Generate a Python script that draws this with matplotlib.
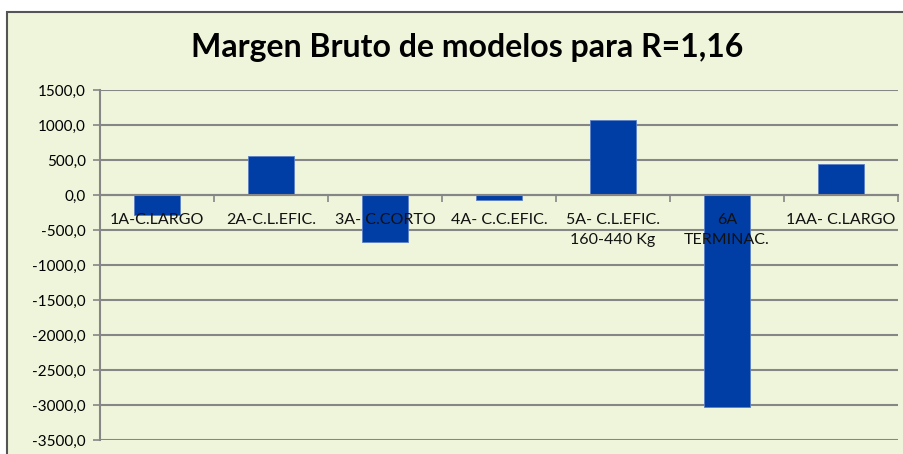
import matplotlib.pyplot as plt
import numpy as np
from matplotlib.patches import Rectangle

categories = [
    "1A-C.LARGO",
    "2A-C.L.EFIC.",
    "3A- C.CORTO",
    "4A- C.C.EFIC.",
    "5A- C.L.EFIC.\n160-440 Kg",
    "6A\nTERMINAC.",
    "1AA- C.LARGO",
]
margen = [-290.0, 550.0, -670.0, -75.0, 1070.0, -3030.0, 445.0]
y_ticks = [1500, 1000, 500, 0, -500, -1000, -1500, -2000, -2500, -3000, -3500]

BG = "#EEF5DA"
GRID = "#868686"
BAR = "#003DA5"

plt.rcParams["font.family"] = ["Lato", "DejaVu Sans"]

fig = plt.figure(figsize=(9.04, 4.54), dpi=100)
fig.patch.set_facecolor("white")
frame = Rectangle((7 / 904, -0.1), 1.0, 1 - 12 / 454 + 0.1,
                  transform=fig.transFigure, facecolor=BG,
                  edgecolor="#555555", linewidth=1.5, zorder=-5)
fig.add_artist(frame)

ax = fig.add_axes([100 / 904, 1 - 440 / 454, 798 / 904, 350 / 454])
ax.set_zorder(2)
ax.set_facecolor(BG)

x = np.arange(len(categories))
ax.bar(x, margen, width=0.4, color=BAR, edgecolor="#5B7FC7", linewidth=0.6, zorder=3)

ax.set_xlim(-0.5, len(categories) - 0.5)
ax.set_ylim(-3500, 1500)
ax.set_yticks(y_ticks)
ax.set_yticklabels([f"{v:.1f}".replace(".", ",") for v in y_ticks], fontsize=11)
ax.yaxis.grid(True, color=GRID, linewidth=1.5, zorder=1)
ax.set_axisbelow(True)

for side in ["top", "right"]:
    ax.spines[side].set_visible(False)
ax.spines["left"].set_color(GRID)
ax.spines["left"].set_linewidth(1.5)
ax.spines["bottom"].set_position(("data", 0))
ax.spines["bottom"].set_color(GRID)
ax.spines["bottom"].set_linewidth(1.5)
ax.spines["bottom"].set_zorder(4)

ax.set_xticks(np.arange(len(categories) + 1) - 0.5)
ax.set_xticklabels([])
ax.tick_params(axis="x", direction="out", length=5, color=GRID, width=1.2)
ax.tick_params(axis="y", direction="out", length=5, color=GRID, width=1.2, pad=5)

for xi, label in zip(x, categories):
    ax.annotate(label, xy=(xi, 0), xytext=(0, -13), textcoords="offset points",
                ha="center", va="top", fontsize=11.5, color="#111111",
                linespacing=1.5, zorder=5)

fig.text(467 / 904, 1 - 48 / 454, "Margen Bruto de modelos para R=1,16",
         ha="center", va="center", fontsize=23, fontweight="bold", zorder=5)

fig.savefig("out.png", dpi=100, facecolor=fig.get_facecolor())
